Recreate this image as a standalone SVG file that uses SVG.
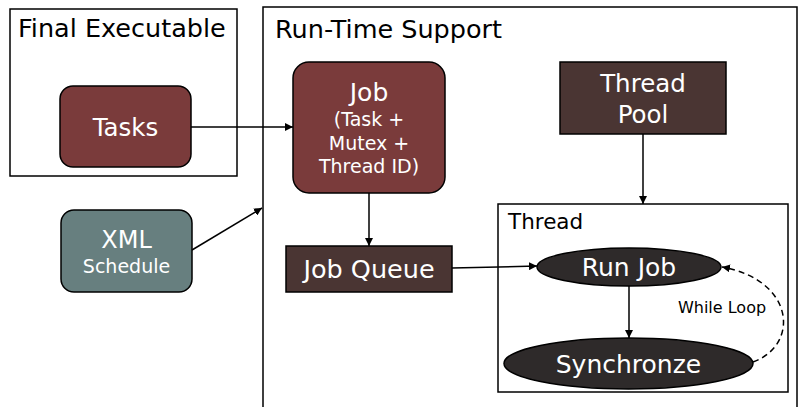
<svg xmlns="http://www.w3.org/2000/svg" width="802" height="407" viewBox="0 0 802 407">
<style>
text{font-family:"DejaVu Sans",sans-serif;}
.w{fill:#ffffff;text-anchor:middle;}
.k{fill:#000000;}
.frame{fill:#ffffff;stroke:#000000;stroke-width:1.5;}
.red{fill:#7a3b3b;stroke:#000000;stroke-width:1.5;}
.brown{fill:#4a3533;stroke:#000000;stroke-width:1.5;}
.teal{fill:#677f7f;stroke:#000000;stroke-width:1.5;}
.dark{fill:#2e2a2a;stroke:#000000;stroke-width:1.5;}
.c{fill:none;stroke:#000000;stroke-width:1.5;marker-end:url(#ah);}
</style>
<defs>
<marker id="ah" viewBox="0 0 10 10" refX="10" refY="5" markerWidth="8" markerHeight="8" markerUnits="userSpaceOnUse" orient="auto">
<path d="M0,0 L10,5 L0,10 z" fill="#000000"/>
</marker>
</defs>
<rect width="802" height="407" fill="#ffffff"/>
<g id="final-executable">
<rect class="frame" x="10" y="9" width="227" height="167"/>
<text class="k" x="18" y="37" font-size="25.5">Final Executable</text>
</g>
<g id="run-time-support">
<path d="M263,412 L263,7 L797,7 L797,412" fill="#ffffff" stroke="#000000" stroke-width="1.5"/>
<text class="k" x="275" y="38" font-size="25.5">Run-Time Support</text>
</g>
<g id="tasks">
<rect class="red" x="60" y="86" width="131" height="81" rx="13"/>
<text class="w" x="125.5" y="136" font-size="24.5">Tasks</text>
</g>
<g id="xml-schedule">
<rect class="teal" x="61" y="210" width="131" height="82" rx="13"/>
<text class="w" x="126.5" y="248" font-size="24">XML</text>
<text class="w" x="126.5" y="273" font-size="19">Schedule</text>
</g>
<g id="job">
<rect class="red" x="293" y="62" width="152" height="131" rx="16"/>
<text class="w" x="369" y="101" font-size="25">Job</text>
<text class="w" x="369" y="126" font-size="19">(Task +</text>
<text class="w" x="369" y="150" font-size="19">Mutex +</text>
<text class="w" x="369" y="173" font-size="19">Thread ID)</text>
</g>
<g id="thread-pool">
<rect class="brown" x="560" y="62" width="166" height="72"/>
<text class="w" x="643" y="92" font-size="24.5">Thread</text>
<text class="w" x="643" y="123" font-size="24.5">Pool</text>
</g>
<g id="job-queue">
<rect class="brown" x="286" y="246" width="166" height="46"/>
<text class="w" x="369" y="278" font-size="25.5">Job Queue</text>
</g>
<g id="thread">
<rect class="frame" x="498" y="204" width="290" height="188"/>
<text class="k" x="508" y="229" font-size="21.5">Thread</text>
</g>
<g id="run-job">
<ellipse class="dark" cx="629" cy="267" rx="92" ry="19"/>
<text class="w" x="629" y="276" font-size="25">Run Job</text>
</g>
<g id="synchronze">
<ellipse class="dark" cx="628.5" cy="363.5" rx="124.5" ry="25.5"/>
<text class="w" x="628.5" y="373" font-size="25">Synchronze</text>
</g>
<g id="connectors">
<line class="c" x1="191" y1="127" x2="293" y2="127"/>
<line class="c" x1="192" y1="250" x2="262" y2="208"/>
<line class="c" x1="369" y1="193" x2="369" y2="246"/>
<line class="c" x1="643" y1="134" x2="643" y2="204"/>
<line class="c" x1="452" y1="268" x2="537" y2="266"/>
<line class="c" x1="629" y1="286" x2="629" y2="338"/>
<path class="c" d="M753,362 C800,345 795,280 722,267" stroke-dasharray="6,4"/>
<text class="k" x="722" y="313" font-size="16" text-anchor="middle">While Loop</text>
</g>
</svg>
